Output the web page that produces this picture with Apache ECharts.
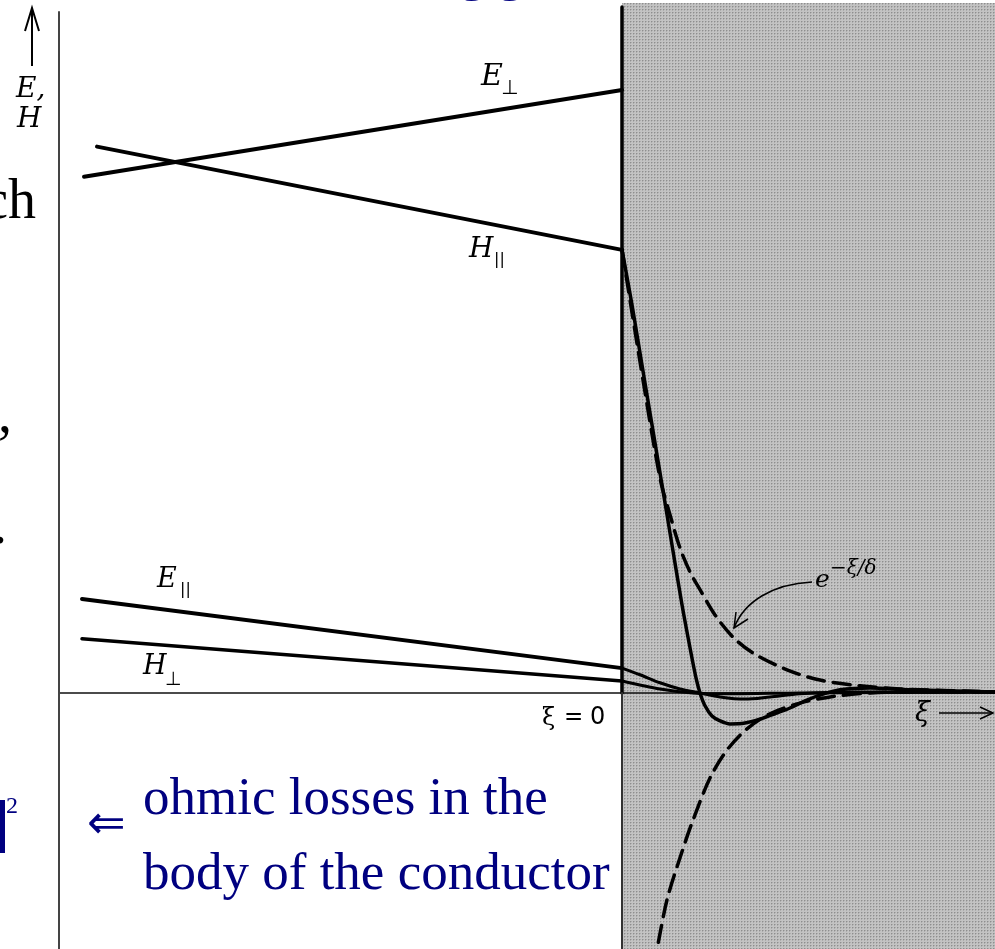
<!DOCTYPE html>
<html><head><meta charset="utf-8">
<script src="https://cdn.jsdelivr.net/npm/echarts@6/dist/echarts.min.js"></script>
<style>html,body{margin:0;padding:0;background:#fff}#c{width:995px;height:949px}</style>
</head><body><div id="c"></div>
<script>
// x in units of skin depth (xi/delta), xi = 0 at conductor surface; y relative to H_par at surface
const xRange = [-11.26, 7.46];
const yRange = [-0.578, 1.564];
const axisTop = 1.537;
const conductorTop = 1.548;
const shadeTop = 1.557;

const ePerpVac = [[-10.76, 1.165], [0, 1.361]];
const hParVac = [[-10.5, 1.233], [0, 1.0]];
const eParVac = [[-10.8, 0.212], [0, 0.056]];
const hPerpVac = [[-10.8, 0.122], [0, 0.027]];

const hParCond = [[0,1.0],[0.2,0.876],[0.4,0.740],[0.6,0.605],[0.8,0.470],[1.0,0.334],[1.2,0.199],[1.36,0.102],[1.48,0.034],[1.56,0],[1.66,-0.029],[1.80,-0.052],[1.96,-0.063],[2.16,-0.070],[2.46,-0.068],[2.76,-0.059],[3.06,-0.047],[3.36,-0.034],[3.66,-0.018],[3.96,-0.005],[4.36,0.007],[4.96,0.011],[5.76,0.007],[7.46,0.002]];
const envUpper = [[0,1.0],[0.38,0.734],[0.76,0.485],[0.96,0.402],[1.16,0.327],[1.36,0.273],[1.56,0.233],[1.86,0.176],[2.22,0.126],[2.62,0.090],[3.30,0.052],[3.96,0.029],[4.76,0.016],[5.56,0.009],[7.46,0.002]];
const envLower = [[0.62,-0.62],[0.70,-0.578],[0.90,-0.467],[1.16,-0.372],[1.42,-0.287],[1.76,-0.192],[2.10,-0.129],[2.50,-0.081],[2.96,-0.047],[3.56,-0.023],[4.16,-0.009],[4.96,0],[5.96,0.002],[7.46,0.002]];
const eParCond = [[0,0.056],[0.36,0.041],[0.76,0.023],[1.16,0.009],[1.56,0],[1.96,-0.009],[2.46,-0.014],[2.96,-0.009],[3.56,-0.002],[4.56,0.002],[7.46,0.002]];
const hPerpCond = [[0,0.027],[0.76,0.009],[1.42,0],[2.16,-0.002],[3.56,0],[7.46,0.002]];

// texture for conductor shading
const pc = document.createElement('canvas'); pc.width = 3; pc.height = 3;
const px = pc.getContext('2d');
px.fillStyle = '#c3c3c3'; px.fillRect(0,0,3,3);
px.fillStyle = '#acacac'; px.fillRect(1,0,1,1); px.fillRect(0,1,1,1);
px.fillStyle = '#8e8e8e'; px.fillRect(0,0,1,1);

const chart = echarts.init(document.getElementById('c'), null, {renderer:'canvas'});

function ln(name, data, o) {
  o = o || {};
  return {
    name, type: 'line', data, symbol: 'none', silent: true, animation: false,
    smooth: o.smooth || false, z: o.z || 5, clip: o.clip !== undefined ? o.clip : true,
    lineStyle: { color: o.color || '#000', width: o.width || 4, type: o.dash || 'solid', cap: 'round', join: 'round' }
  };
}

const navy = '#000080';
const serifI = (s) => 'italic ' + s + 'px "DejaVu Serif"';
function txt(x, y, text, font, fill, align, valign) {
  return { type: 'text', x, y, silent: true, z: 100,
    style: { text, font, fill: fill || '#000', textAlign: align || 'left', align: align || 'left',
             textVerticalAlign: valign || 'middle', verticalAlign: valign || 'middle' } };
}

const option = {
  animation: false,
  backgroundColor: '#fff',
  grid: { left: 59, right: 0, top: 0, bottom: 0, containLabel: false },
  xAxis: { type: 'value', min: xRange[0], max: xRange[1], show: false },
  yAxis: { type: 'value', min: yRange[0], max: yRange[1], show: false },
  series: [
    { name: 'shade', type: 'line', data: [[xRange[1], yRange[0]]], symbol: 'none', z: 1, silent: true,
      lineStyle: { width: 0 }, clip: false,
      markArea: { silent: true, itemStyle: { color: { image: pc, repeat: 'repeat' } },
        data: [[{ coord: [0, shadeTop] }, { coord: [xRange[1], yRange[0]] }]] } },
    ln('baseline', [[xRange[0], 0], [xRange[1], 0]], { width: 1.5, color: '#111', z: 3 }),
    ln('axis', [[xRange[0], axisTop], [xRange[0], yRange[0]]], { width: 2, color: '#444', z: 3, clip: false }),
    ln('surface', [[0, conductorTop], [0, 0]], { width: 3.5, color: '#000', z: 4 }),
    ln('surfaceLow', [[0, 0], [0, yRange[0]]], { width: 2, color: '#333', z: 4 }),
    ln('E_perp', ePerpVac, { width: 4 }),
    ln('H_par', hParVac, { width: 4 }),
    ln('E_par', eParVac, { width: 4 }),
    ln('H_perp', hPerpVac, { width: 3.5 }),
    ln('H_par_cond', hParCond, { width: 3.5, smooth: 0.3 }),
    ln('env_up', envUpper, { width: 3.5, smooth: 0.3, dash: [17, 9] }),
    ln('env_low', envLower, { width: 3.5, smooth: 0.3, dash: [17, 9] }),
    ln('E_par_cond', eParCond, { width: 3, smooth: 0.3 }),
    ln('H_perp_cond', hPerpCond, { width: 3, smooth: 0.3 })
  ],
  graphic: { elements: [
    // up arrow + E,H
    { type: 'line', shape: { x1: 32, y1: 66, x2: 32, y2: 9 }, style: { stroke: '#000', lineWidth: 2 }, z: 100 },
    { type: 'polyline', shape: { points: [[25, 31], [32, 8], [39, 31]] }, style: { stroke: '#000', lineWidth: 2, fill: null }, z: 100 },
    txt(16, 90, 'E,', serifI(28)),
    txt(17, 120, 'H', serifI(28)),
    // curve labels
    txt(481, 77, 'E', serifI(30)),
    txt(501, 89, '⊥', '20px "DejaVu Sans"'),
    txt(469, 250, 'H', serifI(28)),
    txt(494, 260, '||', '16px "DejaVu Sans"'),
    txt(157, 580, 'E', serifI(27)),
    txt(180, 590, '||', '16px "DejaVu Sans"'),
    txt(143, 667, 'H', serifI(27)),
    txt(165, 680, '⊥', '19px "DejaVu Sans"'),
    // xi = 0
    txt(542, 719, 'ξ', '24px "DejaVu Serif"'),
    txt(564, 718, '=', '23px "DejaVu Sans"'),
    txt(590, 718, '0', '24px "DejaVu Sans"'),
    // xi arrow
    txt(915, 714, 'ξ', serifI(27)),
    { type: 'line', shape: { x1: 939, y1: 713, x2: 992, y2: 713 }, style: { stroke: '#000', lineWidth: 1.5 }, z: 100 },
    { type: 'polyline', shape: { points: [[980, 707], [993, 713], [980, 719]] }, style: { stroke: '#000', lineWidth: 1.5, fill: null }, z: 100 },
    // e^{-xi/delta}
    txt(815, 580, 'e', serifI(25)),
    txt(830, 569, '−ξ/δ', serifI(20)),
    { type: 'bezierCurve', shape: { x1: 812, y1: 582, cpx1: 772, cpy1: 584, cpx2: 744, cpy2: 602, x2: 734, y2: 628 },
      style: { stroke: '#000', lineWidth: 1.5, fill: null }, z: 100 },
    { type: 'polyline', shape: { points: [[736, 612], [734, 628], [748, 619]] }, style: { stroke: '#000', lineWidth: 1.5, fill: null }, z: 100 },
    // slide text fragments
    txt(36, 203, 'ch', '56px "Liberation Serif"', '#000', 'right'),
    txt(12, 417, ',', '56px "Liberation Serif"', '#000', 'right'),
    txt(7, 528, '.', '56px "Liberation Serif"', '#000', 'right'),
    txt(459, -24, 'g', '53px "Liberation Serif"', navy),
    txt(497, -24, 'g', '53px "Liberation Serif"', navy),
    { type: 'rect', shape: { x: 0, y: 800, width: 5, height: 53 }, style: { fill: navy }, z: 100 },
    txt(6, 807, '2', '24px "Liberation Serif"', navy),
    txt(87, 826, '⇐', '46px "DejaVu Sans"', navy),
    txt(143, 800, 'ohmic losses in the', '53px "Liberation Serif"', navy),
    txt(143, 875, 'body of the conductor', '53px "Liberation Serif"', navy)
  ] }
};
chart.setOption(option);
</script>
</body></html>
